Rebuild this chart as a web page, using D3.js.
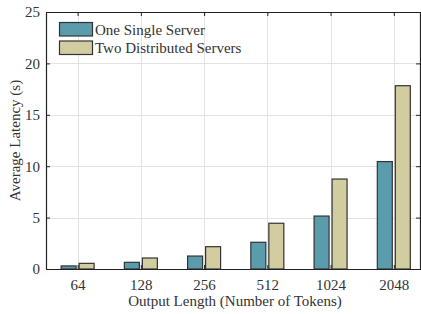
<!DOCTYPE html>
<head>
<meta charset="utf-8">
<script src="https://d3js.org/d3.v7.min.js"></script>
<style>
  body { margin: 0; background: #fff; }
  svg { font-family: "Liberation Serif", "Times New Roman", serif; }
  text { fill: #333; }
  .grid line { stroke: #e3e3e3; stroke-width: 1px; }
  .bar { stroke: #333; stroke-width: 1.2px; }
</style>
</head>
<body>
<script>
var categories = ["64", "128", "256", "512", "1024", "2048"];
var singleServer = [0.30, 0.65, 1.26, 2.60, 5.15, 10.45];
var twoServers = [0.55, 1.07, 2.17, 4.45, 8.75, 17.83];
var yTicks = [0, 5, 10, 15, 20, 25];
var seriesNames = ["One Single Server", "Two Distributed Servers"];
var colors = ["#5a9bac", "#d1cda0"];

var W = 421, H = 314;
var plot = {left: 46, right: 421, top: 12, bottom: 269};

var svg = d3.select("body").append("svg")
    .attr("width", W)
    .attr("height", H);

var x = d3.scaleLinear().domain([0.5, 6.43]).range([plot.left, plot.right]);
var y = d3.scaleLinear().domain([0, 25]).range([plot.bottom, plot.top]);

// grid
var grid = svg.append("g").attr("class", "grid");
grid.selectAll(".gx")
  .data(categories)
  .enter().append("line")
    .attr("x1", function(d, i) { return Math.round(x(i + 1)) + 0.5; })
    .attr("x2", function(d, i) { return Math.round(x(i + 1)) + 0.5; })
    .attr("y1", plot.top).attr("y2", plot.bottom);
grid.selectAll(".gy")
  .data(yTicks)
  .enter().append("line")
    .attr("x1", plot.left).attr("x2", plot.right)
    .attr("y1", function(d) { return Math.round(y(d)) + 0.5; })
    .attr("y2", function(d) { return Math.round(y(d)) + 0.5; });

// bars
var barW = 15, off = 9;
var series = [singleServer, twoServers];
series.forEach(function(vals, s) {
  svg.append("g").selectAll("rect")
    .data(vals)
    .enter().append("rect")
      .attr("class", "bar")
      .attr("x", function(d, i) { return x(i + 1) + (s === 0 ? -off : off) - barW / 2; })
      .attr("y", function(d) { return y(d); })
      .attr("width", barW)
      .attr("height", function(d) { return y(0) - y(d); })
      .attr("fill", colors[s]);
});

// axes (box with inward ticks)
var tickLen = 4;
var catIdx = d3.range(1, categories.length + 1);
var xAxisB = d3.axisBottom(x)
    .tickValues(catIdx)
    .tickFormat(function(d) { return categories[d - 1]; })
    .tickSizeInner(-tickLen).tickSizeOuter(0).tickPadding(10);
var gxb = svg.append("g").attr("transform", "translate(0," + plot.bottom + ")").call(xAxisB);

var xAxisT = d3.axisTop(x)
    .tickValues(catIdx)
    .tickFormat("")
    .tickSizeInner(-tickLen).tickSizeOuter(0);
var gxt = svg.append("g").attr("transform", "translate(0," + plot.top + ")").call(xAxisT);

var yAxisL = d3.axisLeft(y)
    .tickValues(yTicks)
    .tickSizeInner(-tickLen).tickSizeOuter(0).tickPadding(6);
var gyl = svg.append("g").attr("transform", "translate(" + plot.left + ",0)").call(yAxisL);

var yAxisR = d3.axisRight(y)
    .tickValues(yTicks)
    .tickFormat("")
    .tickSizeInner(-tickLen).tickSizeOuter(0);
var gyr = svg.append("g").attr("transform", "translate(" + (plot.right - 1) + ",0)").call(yAxisR);

[gxb, gxt, gyl, gyr].forEach(function(g) {
  g.selectAll("path").attr("stroke", "#222").attr("stroke-width", 1.2);
  g.selectAll("line").attr("stroke", "#222");
  g.selectAll("text").style("font-size", "15px")
    .style("font-family", "'Liberation Serif', serif").attr("fill", "#333");
});

// axis titles
svg.append("text")
    .attr("x", 235)
    .attr("y", 306)
    .attr("text-anchor", "middle")
    .style("font-size", "15px")
    .text("Output Length (Number of Tokens)");

svg.append("text")
    .attr("transform", "translate(20," + ((plot.top + plot.bottom) / 2) + ") rotate(-90)")
    .attr("text-anchor", "middle")
    .style("font-size", "15px")
    .text("Average Latency (s)");

// legend
var legend = svg.append("g");
seriesNames.forEach(function(name, i) {
  legend.append("rect")
    .attr("x", 59.5).attr("y", 22.5 + i * 18.5)
    .attr("width", 33).attr("height", 13.5)
    .attr("fill", colors[i]).attr("stroke", "#333").attr("stroke-width", 1.2);
  legend.append("text")
    .attr("x", 95).attr("y", 34.5 + i * 18.5)
    .style("font-size", "15px")
    .text(name);
});
</script>
</body>
